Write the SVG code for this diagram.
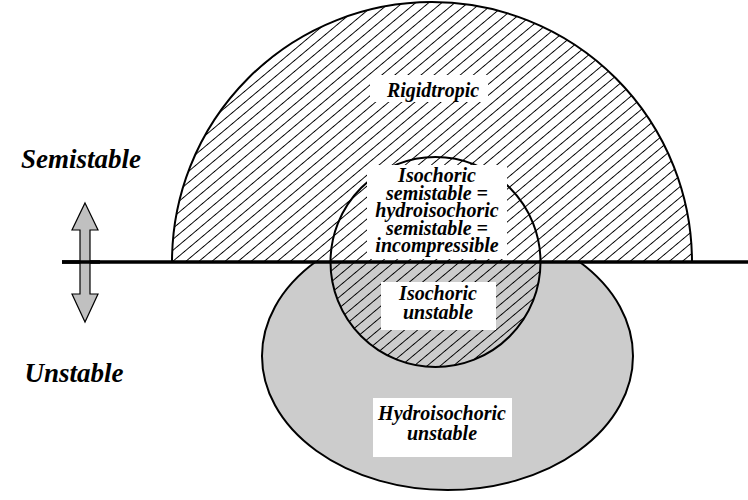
<svg xmlns="http://www.w3.org/2000/svg" width="748" height="500" viewBox="0 0 748 500">
<style>
.t{font-family:"Liberation Serif","Times New Roman","DejaVu Serif",serif;font-weight:700;font-style:italic;fill:#000;text-anchor:middle}
.s{font-size:20px}
.big{font-size:27px}
.box{fill:#fff;stroke:none}
.out{fill:none;stroke:#000;stroke-width:2}
</style>
<defs>
<pattern id="hatch" patternUnits="userSpaceOnUse" width="8.4" height="10" patternTransform="rotate(50)">
<line x1="0" y1="-1" x2="0" y2="11" stroke="#000" stroke-width="1.4" shape-rendering="crispEdges"/>
</pattern>
<clipPath id="below"><rect x="0" y="262" width="748" height="238"/></clipPath>
</defs>
<rect width="748" height="500" fill="#fff"/>
<g id="hydroisochoric-unstable">
<ellipse cx="447.5" cy="356" rx="185.5" ry="134" fill="#cccccc" stroke="#000" stroke-width="2"/>
</g>
<g id="rigidtropic">
<path d="M172,262 A260,260 0 0 1 692,262 Z" fill="#fff"/>
<path d="M172,262 A260,260 0 0 1 692,262 Z" fill="url(#hatch)" stroke="#000" stroke-width="2"/>
</g>
<g id="isochoric">
<circle cx="435.5" cy="262" r="105" fill="url(#hatch)" clip-path="url(#below)"/>
<circle cx="435.5" cy="262" r="105" class="out"/>
</g>
<g id="connectors">
<line x1="62" y1="262" x2="748" y2="262" stroke="#000" stroke-width="3.5"/>
<path d="M85,203 L98,230 L90,230 L90,294 L98,294 L85,322 L72,294 L80,294 L80,230 L72,230 Z" fill="#c0c0c0" stroke="#000" stroke-width="1.2"/>
<line x1="62" y1="262" x2="100" y2="262" stroke="#000" stroke-width="3.5"/>
</g>
<g id="label-rigidtropic">
<rect class="box" x="370" y="75" width="118" height="27"/>
<text class="t s" x="433" y="97">Rigidtropic</text>
</g>
<g id="label-isochoric-semistable">
<rect class="box" x="367" y="165" width="140" height="94"/>
<text class="t s" x="437" y="182">Isochoric</text>
<text class="t s" x="437" y="200">semistable =</text>
<text class="t s" x="437" y="217">hydroisochoric</text>
<text class="t s" x="437" y="235">semistable =</text>
<text class="t s" x="437" y="252">incompressible</text>
</g>
<g id="label-isochoric-unstable">
<rect class="box" x="381" y="282" width="115" height="48"/>
<text class="t s" x="438" y="300">Isochoric</text>
<text class="t s" x="438" y="319">unstable</text>
</g>
<g id="label-hydroisochoric-unstable">
<rect class="box" x="373" y="398" width="139" height="59"/>
<text class="t s" x="442" y="420">Hydroisochoric</text>
<text class="t s" x="442" y="440">unstable</text>
</g>
<g id="label-semistable">
<text class="t big" x="81" y="168">Semistable</text>
</g>
<g id="label-unstable">
<text class="t big" x="74" y="382">Unstable</text>
</g>
</svg>
